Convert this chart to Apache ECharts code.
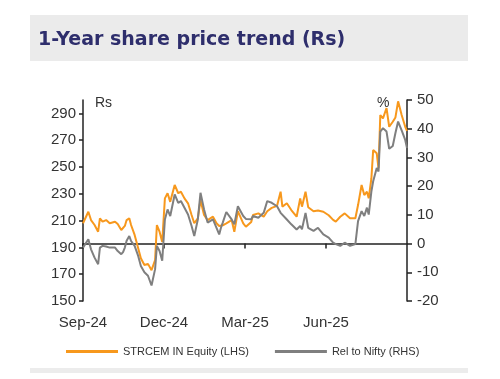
<!DOCTYPE html>
<html><head><meta charset="utf-8">
<script src="https://cdn.jsdelivr.net/npm/echarts@6/dist/echarts.min.js"></script>
<style>html,body{margin:0;padding:0;background:#fff}#c{width:500px;height:379px}</style>
</head><body><div id="c"></div>
<script>
// days since 2024-09-01
const days = [0,6,9,13,17,19,22,26,30,36,39,43,45,47,49,52,54,58,62,65,69,73,77,81,83,86,89,92,95,98,103,107,110,114,118,122,125,129,132,136,140,146,150,153,155,157,161,167,170,174,180,183,189,191,197,203,207,212,218,222,224,229,234,240,244,246,250,253,259,264,270,276,281,284,289,294,300,306,309,313,316,319,321,324,326,330,332,334,337,341,344,348,351,354,358,362,364];
const priceRs = [208,216.6,210.4,206.7,201.7,211.7,209.2,210.4,208,209.2,207.5,203,201.7,206,210.4,211.7,206.7,199.3,189.3,181.9,176.9,177.7,173,180.6,206.7,201.7,194,226.6,230.4,224,236.6,230.4,231.6,226.6,222.9,214.2,208,211.7,225.4,214.2,210.4,212.9,208,206,205.4,206.5,208,210.4,201.7,217,208,205.4,209,214.2,215.4,212.9,217,219.5,221,231.6,220.4,222.9,217.9,212.9,226.6,220.4,231.6,220,217,217.5,216.6,214,210.5,209.2,212.9,215.4,211.7,211.7,221.6,236.6,229.1,231.6,226.6,241.6,262.7,260.2,249,288.8,286.3,294,280,283.8,287,299,288.8,280,277];
const relNifty = [-1.4,1.5,-2,-4.9,-7.2,-1.4,-0.8,-1,-1.4,-1.4,-2.6,-3.7,-3,-1.4,1,2.6,0.9,-0.8,-4.3,-7.8,-10,-11.2,-14.6,-8.9,-0.8,-2.6,-6,8.4,11.9,9.6,17.1,14.2,14.8,12.5,10.1,6.1,2.6,8.4,17.7,11.9,7.3,8.4,5.5,3.2,5.5,7.3,11,8.4,6.7,13,9.6,8.6,8.5,9.6,9,10.7,14.8,14.2,13,10.7,11.3,8.4,6.7,4.9,6.1,5,10.7,5.5,4.4,5.5,3.2,2.1,0.3,-0.2,-0.8,0.3,-0.8,-0.2,7.8,11.3,9.6,12.5,10.1,18.2,21.7,26.3,25.1,39,40.2,39,33,34,38.5,42.5,39.4,36.1,33.3];
const xTickDays = [0,91,182,273];
const xTickLabels = ['Sep-24','Dec-24','Mar-25','Jun-25'];
const leftTicks = [150,170,190,210,230,250,270,290];
const rightTicks = [-20,-10,0,10,20,30,40,50];
const seriesNames = ['STRCEM IN Equity (LHS)','Rel to Nifty (RHS)'];

const chart = echarts.init(document.getElementById('c'), null, {renderer:'canvas'});
const axisColor = '#222';
const lblFont = {fontFamily:'Liberation Sans, Arial', fontSize:15, color:'#333'};
chart.setOption({
  animation:false,
  backgroundColor:'#fff',
  grid:{left:83, right:93, top:100, bottom:78, containLabel:false},
  graphic:[
    {type:'rect', shape:{x:30,y:15,width:438,height:46}, style:{fill:'#ebebeb'}, z:-1},
    {type:'text', x:38, y:40, style:{text:'1-Year share price trend (Rs)', font:'bold 19px "DejaVu Sans", Verdana', fill:'#2e2e6c', verticalAlign:'middle'}},
    {type:'text', x:95, y:103, style:{text:'Rs', font:'14px "Liberation Sans", Arial', fill:'#333', verticalAlign:'middle'}},
    {type:'text', x:377, y:103, style:{text:'%', font:'14px "Liberation Sans", Arial', fill:'#333', verticalAlign:'middle'}},
    {type:'rect', shape:{x:30,y:368,width:438,height:5}, style:{fill:'#ececec'}, z:-1}
  ],
  legend:{
    left:66, top:346, padding:0, itemWidth:52, itemHeight:3, itemGap:26,
    icon:'rect',
    textStyle:{fontFamily:'Liberation Sans, Arial', fontSize:11, color:'#333'},
    data:seriesNames
  },
  xAxis:{
    type:'value', min:0, max:364, interval:91,
    axisLine:{show:true, lineStyle:{color:axisColor, width:1.5}},
    axisTick:{show:true, length:5, customValues:xTickDays, lineStyle:{color:axisColor, width:1.5}},
    axisLabel:Object.assign({margin:14, customValues:xTickDays,
      formatter:function(v){const i=xTickDays.indexOf(v);return i>=0?xTickLabels[i]:'';}}, lblFont),
    splitLine:{show:false}
  },
  yAxis:[
    {type:'value', min:150, max:300, interval:10, position:'left',
      axisLine:{show:true, lineStyle:{color:axisColor, width:1.5}},
      axisTick:{show:true, length:4, customValues:leftTicks, lineStyle:{color:axisColor, width:1.5}},
      axisLabel:Object.assign({margin:7, customValues:leftTicks}, lblFont),
      splitLine:{show:false}},
    {type:'value', min:-20, max:50, interval:10, position:'right',
      axisLine:{show:true, lineStyle:{color:axisColor, width:1.5}},
      axisTick:{show:true, length:5, customValues:rightTicks, lineStyle:{color:axisColor, width:1.5}},
      axisLabel:Object.assign({margin:10, customValues:rightTicks}, lblFont),
      splitLine:{show:false}}
  ],
  series:[
    {name:seriesNames[0], type:'line', yAxisIndex:0, showSymbol:false, symbol:'none',
      data:days.map((d,i)=>[d,priceRs[i]]), lineStyle:{color:'#f7981d', width:2}, itemStyle:{color:'#f7981d'}},
    {name:seriesNames[1], type:'line', yAxisIndex:1, showSymbol:false, symbol:'none',
      data:days.map((d,i)=>[d,relNifty[i]]), lineStyle:{color:'#7f7f7f', width:2}, itemStyle:{color:'#7f7f7f'}}
  ]
});
</script></body></html>
